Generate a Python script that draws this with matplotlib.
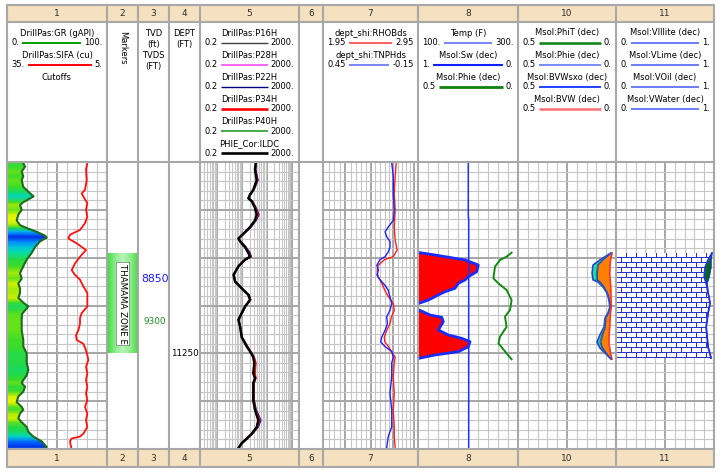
import numpy as np
import matplotlib
matplotlib.use("Agg")
import matplotlib.pyplot as plt
from matplotlib.colors import LinearSegmentedColormap, ListedColormap

plt.rcParams['font.family'] = ['DejaVu Sans']

# ---------------------------------------------------------------- data
TOP_DEPTH, BASE_DEPTH = 11050, 11350
TRACK_IDS = ['1', '2', '3', '4', '5', '6', '7', '8', '10', '11']

GR_DEPTH = [11051, 11055, 11060, 11065, 11069, 11076, 11081, 11086, 11092, 11095,
            11100, 11105, 11111, 11116, 11119, 11123, 11127, 11129, 11133, 11139,
            11145, 11152, 11159, 11166, 11172, 11177, 11182, 11187, 11192, 11197,
            11201, 11205, 11209, 11215, 11226, 11236, 11243, 11250, 11260, 11267,
            11273, 11278, 11281, 11285, 11290, 11295, 11301, 11306, 11309, 11313,
            11318, 11322, 11327, 11332, 11337, 11342, 11346, 11348, 11350]
GR = [16.3, 18.0, 14.7, 16.3, 14.7, 16.3, 21.3, 26.5, 16.3, 13.0,
      14.7, 11.3, 9.7, 13.0, 19.7, 29.7, 38.0, 39.7, 33.0, 28.0,
      24.7, 19.7, 16.3, 13.0, 14.7, 11.3, 13.0, 13.0, 11.3, 16.3,
      21.3, 18.0, 15.0, 14.7, 14.7, 16.3, 16.3, 19.7, 19.7, 21.3,
      19.7, 16.3, 14.7, 18.0, 16.3, 11.3, 9.7, 14.7, 16.3, 13.0,
      11.3, 14.7, 19.7, 21.3, 26.3, 34.7, 38.0, 39.7, 36.0]

SIFA_DEPTH = [11051, 11058, 11069, 11079, 11083, 11086, 11093, 11100, 11107, 11114,
              11121, 11126, 11130, 11135, 11142, 11149, 11156, 11163, 11168, 11173,
              11180, 11187, 11194, 11201, 11208, 11213, 11219, 11226, 11231, 11236,
              11240, 11247, 11252, 11257, 11264, 11271, 11278, 11285, 11292, 11299,
              11306, 11313, 11320, 11327, 11334, 11337, 11339, 11342, 11346, 11350]
SIFA = [10.9, 11.3, 11.1, 11.6, 12.6, 12.1, 10.9, 11.3, 10.9, 11.6,
        13.1, 16.1, 16.6, 14.1, 11.3, 13.1, 14.6, 15.6, 14.6, 13.1,
        12.1, 10.9, 10.9, 10.9, 12.6, 13.1, 13.1, 13.6, 14.3, 14.1,
        12.1, 11.3, 10.9, 10.6, 11.3, 10.9, 11.3, 10.9, 11.3, 10.9,
        11.6, 10.9, 11.3, 10.9, 12.1, 13.1, 15.6, 16.1, 15.9, 15.6]

MARKER_NAME = 'THAMAMA ZONE E'
MARKER_TOP, MARKER_BASE = 11146, 11250

TVD_LABELS = ['8850', '9300']
TVD_LABEL_DEPTHS = [11172, 11217]
DEPTH_LABEL = '11250'
DEPTH_LABEL_DEPTH = 11250

RES_DEPTH = [11051, 11058, 11069, 11079, 11084, 11088, 11091, 11098, 11105, 11111,
             11118, 11125, 11130, 11133, 11139, 11145, 11149, 11152, 11159, 11168,
             11175, 11182, 11189, 11194, 11201, 11208, 11215, 11222, 11233, 11243,
             11248, 11254, 11260, 11271, 11276, 11281, 11290, 11299, 11309, 11320,
             11327, 11334, 11339, 11344, 11349]
ILDC = [35.6, 33.2, 39, 28.4, 21, 17.9, 24.6, 33.2, 39, 33.2,
        21, 11.2, 7.1, 8.3, 13.2, 17.9, 21, 13.2, 7.1, 4.5,
        5.2, 9.6, 17.9, 21, 13.2, 9.6, 7.1, 8.3, 9.6, 15.5,
        21, 28.4, 31.2, 28.4, 33.2, 28.4, 28.4, 28.4, 33.2, 45.6,
        39, 24.6, 15.5, 9.6, 7.1]
P16H = [36, 34, 41, 29, 21.5, 18.5, 25, 35, 43, 35,
        22, 11.5, 7.3, 8.5, 13.5, 19, 22, 13.5, 7.2, 4.6,
        5.3, 9.8, 18.5, 21.5, 13.5, 9.8, 7.2, 8.4, 9.8, 16,
        21.5, 29.5, 33, 30, 34, 29, 29, 29, 34.5, 50,
        41, 25, 16, 9.8, 7.2]
P28H = [37, 35, 43, 30, 22, 19, 26, 36, 46, 36,
        22.5, 11.8, 7.4, 8.6, 14, 20, 23, 14, 7.3, 4.6,
        5.4, 10, 19, 22, 13.8, 10, 7.3, 8.5, 10, 16.5,
        22, 30, 34, 31, 35, 30, 30, 30, 36, 55,
        44, 26, 16.5, 10, 7.3]
P22H = [38, 35.5, 44, 30.5, 22, 19.5, 26.5, 37, 48, 37,
        23, 12, 7.5, 8.8, 14.5, 21, 23.5, 14.2, 7.4, 4.7,
        5.5, 10.2, 19.5, 22.5, 14, 10.2, 7.4, 8.6, 10.2, 17,
        22.5, 31, 35, 32, 36, 31, 30.5, 31, 37, 57,
        45, 26.5, 17, 10.2, 7.4]
P34H = [36.5, 34.5, 42, 29.5, 21.5, 18.8, 25.5, 35.5, 44, 35.5,
        22, 11.6, 7.3, 8.5, 13.8, 19.5, 22.5, 13.8, 7.2, 4.6,
        5.3, 9.9, 18.8, 22, 13.6, 9.9, 7.2, 8.4, 9.9, 16.2,
        22, 30.5, 36, 34, 36, 30, 29.5, 30, 35, 52,
        42, 25.5, 16.2, 9.9, 7.2]
P40H = [35, 33, 38.5, 28, 20.8, 17.7, 24.2, 32.8, 38.5, 32.8,
        20.7, 11, 7.0, 8.2, 13, 17.6, 20.7, 13, 7.0, 4.45,
        5.1, 9.5, 17.6, 20.7, 13, 9.5, 7.0, 8.2, 9.5, 15.3,
        20.7, 28, 30.8, 28, 32.8, 28, 28, 28, 32.8, 44,
        38.5, 24.2, 15.3, 9.5, 7.0]

RHOB_DEPTH = [11051, 11065, 11083, 11100, 11118, 11132, 11142, 11149, 11152, 11158,
              11163, 11170, 11177, 11184, 11191, 11198, 11205, 11212, 11219, 11226,
              11233, 11238, 11243, 11248, 11254, 11260, 11274, 11292, 11309, 11327,
              11337, 11349]
RHOB = [2.72, 2.71, 2.70, 2.71, 2.70, 2.71, 2.73, 2.69, 2.60, 2.53,
        2.52, 2.53, 2.57, 2.60, 2.64, 2.69, 2.70, 2.67, 2.655, 2.62,
        2.595, 2.60, 2.64, 2.67, 2.71, 2.70, 2.69, 2.70, 2.69, 2.70,
        2.70, 2.71]
TNPH_DEPTH = [11051, 11065, 11083, 11100, 11111, 11118, 11123, 11128, 11133, 11139,
              11144, 11149, 11152, 11158, 11163, 11168, 11173, 11179, 11184, 11191,
              11198, 11205, 11212, 11219, 11226, 11233, 11238, 11243, 11248, 11254,
              11260, 11274, 11292, 11309, 11327, 11337, 11349]
TNPH = [0.016, 0.006, 0.006, 0.0, 0.006, 0.038, 0.058, 0.048, 0.027, 0.027,
        0.038, 0.058, 0.09, 0.11, 0.10, 0.11, 0.09, 0.058, 0.038, 0.027,
        0.016, 0.027, 0.048, 0.043, 0.058, 0.079, 0.085, 0.058, 0.016, 0.006,
        0.016, 0.016, 0.027, 0.016, 0.016, 0.038, 0.048]

TEMP_DEPTH = [11050, 11108, 11109, 11350]
TEMP = [200.6, 200.6, 201.4, 201.4]

SW_DEPTH = [11144.6, 11144.8, 11147.2, 11152.4, 11157.7, 11164.7, 11169.9, 11173.3, 11176.8,
            11182.0, 11185.6, 11189.0, 11194.3, 11197.7, 11200.0,
            11204.7, 11209.9, 11212.3, 11216.9, 11225.6, 11230.8, 11234.3, 11237.8,
            11243.1, 11248.3, 11251.7, 11255.2]
SW = [1.0, 0.98, 0.83, 0.53, 0.397, 0.413, 0.497, 0.53, 0.597,
      0.63, 0.73, 0.797, 0.897, 0.99, np.nan,
      0.99, 0.88, 0.763, 0.747, 0.797, 0.697, 0.563, 0.48,
      0.497, 0.597, 0.83, 0.99]

PHIE8_DEPTH = [11144.8, 11149.0, 11152.4, 11159.4, 11171.6, 11176.8, 11183.8, 11194.3,
               11204.7, 11211.7, 11222.2, 11232.6, 11239.5, 11250.0, 11256.2]
PHIE8 = [0.032, 0.057, 0.09, 0.115, 0.123, 0.098, 0.057, 0.032,
         0.04, 0.065, 0.057, 0.09, 0.098, 0.057, 0.032]

D10 = [11145.1, 11152.4, 11157.7, 11166.0, 11173.3, 11175.4, 11180.7, 11186.9, 11194.3,
       11201.6, 11207.8, 11213.0, 11222.5, 11230.8, 11238.2, 11244.4, 11251.7, 11255.9]
PHIT = [0.026, 0.082, 0.117, 0.122, 0.117, 0.092, 0.066, 0.046, 0.036,
        0.031, 0.041, 0.056, 0.061, 0.082, 0.097, 0.082, 0.046, 0.026]
PHIE = [0.024, 0.070, 0.095, 0.100, 0.100, 0.085, 0.064, 0.045, 0.035,
        0.030, 0.040, 0.054, 0.058, 0.072, 0.082, 0.072, 0.044, 0.025]
BVWSXO = [0.023, 0.066, 0.090, 0.095, 0.094, 0.080, 0.060, 0.043, 0.034,
          0.029, 0.038, 0.051, 0.055, 0.068, 0.077, 0.068, 0.042, 0.024]
BVW = [0.020, 0.028, 0.030, 0.032, 0.030, 0.028, 0.027, 0.026, 0.025,
       0.024, 0.028, 0.030, 0.032, 0.035, 0.036, 0.032, 0.026, 0.020]

D11 = [11145.1, 11152.4, 11159.8, 11170.2, 11176.5, 11186.9, 11197.4, 11207.8,
       11222.5, 11232.9, 11243.4, 11254.9]
VILLITE = [0.01, 0.01, 0.01, 0.01, 0.01, 0.01, 0.01, 0.01, 0.01, 0.01, 0.01, 0.01]
VLIME = [0.97, 0.93, 0.90, 0.89, 0.91, 0.93, 0.95, 0.93, 0.91, 0.92, 0.93, 0.96]
VOIL = [0.0, 0.03, 0.06, 0.05, 0.01, 0.0, 0.0, 0.0, 0.0, 0.0, 0.0, 0.0]
VWATER = [0.02, 0.03, 0.03, 0.05, 0.07, 0.06, 0.04, 0.06, 0.08, 0.07, 0.06, 0.03]

# header legend entries: (name, left scale, right scale, colour, line width)
HEADER_ENTRIES = {
    0: [('DrillPas:GR (gAPI)', '0.', '100.', '#00a000', 1.4),
        ('DrillPas:SIFA (cu)', '35.', '5.', '#ff0000', 1.4)],
    4: [('DrillPas:P16H', '0.2', '2000.', '#404040', 1.0),
        ('DrillPas:P28H', '0.2', '2000.', '#ff66ff', 1.4),
        ('DrillPas:P22H', '0.2', '2000.', '#000080', 1.0),
        ('DrillPas:P34H', '0.2', '2000.', '#ff0000', 1.9),
        ('DrillPas:P40H', '0.2', '2000.', '#2e9a2e', 1.2),
        ('PHIE_Cor:ILDC', '0.2', '2000.', '#000000', 1.9)],
    6: [('dept_shi:RHOBds', '1.95', '2.95', '#ff3535', 1.1),
        ('dept_shi:TNPHds', '0.45', '-0.15', '#5565ff', 1.1)],
    7: [('Temp (F)', '100.', '300.', '#5565ff', 1.1),
        ('Msol:Sw (dec)', '1.', '0.', '#1020ff', 1.5),
        ('Msol:Phie (dec)', '0.5', '0.', '#108010', 2.0)],
    8: [('Msol:PhiT (dec)', '0.5', '0.', '#108010', 1.8),
        ('Msol:Phie (dec)', '0.5', '0.', '#7080ff', 1.3),
        ('Msol:BVWsxo (dec)', '0.5', '0.', '#1030ff', 1.3),
        ('Msol:BVW (dec)', '0.5', '0.', '#ff7070', 1.8)],
    9: [('Msol:VIllite (dec)', '0.', '1.', '#6070ff', 1.3),
        ('Msol:VLime (dec)', '0.', '1.', '#6070ff', 1.3),
        ('Msol:VOil (dec)', '0.', '1.', '#6070ff', 1.3),
        ('Msol:VWater (dec)', '0.', '1.', '#6070ff', 1.3)],
}

# ---------------------------------------------------------------- layout / style
W, H, DPI = 721, 473, 100
TRACK_EDGES = [7, 107, 138, 169, 200, 299, 323, 418, 518, 616, 714]
BAND_Y = (5, 22)
DATA_Y = (162, 449)
FOOT_Y = (449, 467)
FS = 6
BORDER = '#a8a8a8'
BAND = '#f5e0bf'
GRID_MINOR = '#c6c6c6'
GRID_MAJOR = '#a6a6a6'

fig = plt.figure(figsize=(W / DPI, H / DPI), dpi=DPI)
fig.patch.set_facecolor('white')

bg = fig.add_axes([0, 0, 1, 1], zorder=0)
bg.set_xlim(0, W)
bg.set_ylim(H, 0)
bg.axis('off')


def track_ax(i):
    x0, x1 = TRACK_EDGES[i], TRACK_EDGES[i + 1]
    ax = fig.add_axes([x0 / W, 1 - DATA_Y[1] / H, (x1 - x0) / W,
                       (DATA_Y[1] - DATA_Y[0]) / H], zorder=1)
    ax.set_facecolor('none')
    for s in ax.spines.values():
        s.set_visible(False)
    ax.tick_params(which='both', length=0, labelbottom=False, labelleft=False,
                   bottom=False, left=False)
    ax.set_axisbelow(True)
    ax.set_ylim(BASE_DEPTH, TOP_DEPTH)
    return ax


def depth_grid(ax):
    ax.set_yticks(np.arange(11100, 11301, 50))
    ax.set_yticks(np.arange(11060, 11350, 10), minor=True)
    ax.yaxis.grid(True, which='major', color=GRID_MAJOR, lw=1.4)
    ax.yaxis.grid(True, which='minor', color=GRID_MINOR, lw=0.8)
    ax.set_ylim(BASE_DEPTH, TOP_DEPTH)


def x_grid(ax, major, minor, major_heavy=True):
    ax.set_xticks(major)
    ax.set_xticks(minor, minor=True)
    ax.xaxis.grid(True, which='major', color=GRID_MAJOR if major_heavy else GRID_MINOR,
                  lw=1.4 if major_heavy else 0.8)
    ax.xaxis.grid(True, which='minor', color=GRID_MINOR, lw=0.8)


def twin(ax, xlim):
    t = ax.twiny()
    t.set_xlim(*xlim)
    t.set_ylim(BASE_DEPTH, TOP_DEPTH)
    t.axis('off')
    return t


# ---------------- track 1 : GR + SIFA
ax1 = track_ax(0)
x_grid(ax1, [50], [10, 20, 30, 40, 60, 70, 80, 90])
depth_grid(ax1)
gr_cmap = LinearSegmentedColormap.from_list('gr', [
    (0.0, '#ffff00'), (0.12, '#c8f000'), (0.22, '#44dd22'), (0.36, '#22d84a'),
    (0.52, '#00e0b8'), (0.66, '#00a8ff'), (0.85, '#0050ff'), (1.0, '#0022c8')])
gd = np.asarray(GR_DEPTH, float)
gv = np.asarray(GR, float)
mesh = ax1.pcolormesh(np.column_stack([np.zeros_like(gd), np.full_like(gd, 100.0)]),
                      np.column_stack([gd, gd]), np.column_stack([gv, gv]),
                      shading='gouraud', cmap=gr_cmap, vmin=8, vmax=42, zorder=1)
clip = ax1.fill_betweenx(gd, 0, gv, facecolor='none', edgecolor='none')
mesh.set_clip_path(clip.get_paths()[0], transform=ax1.transData)
ax1.plot(gv, gd, color='#1d6b1d', lw=1.5, zorder=3)
ax1.set_xlim(0, 100)
ax1.set_ylim(BASE_DEPTH, TOP_DEPTH)
t1 = twin(ax1, (35, 5))
t1.plot(SIFA, SIFA_DEPTH, color='#ff1010', lw=1.3)

# ---------------- track 2 : markers
ax2 = track_ax(1)
ax2.set_xlim(0, 1)
grad = np.abs(np.linspace(-1, 1, 64))[None, :]
mk_cmap = LinearSegmentedColormap.from_list('mk', ['#b6f4b6', '#8beb8b', '#3cdb3c'])
ax2.imshow(grad, cmap=mk_cmap, extent=(0, 1, MARKER_BASE, MARKER_TOP),
           aspect='auto', zorder=1)
ax2.set_xlim(0, 1)
ax2.set_ylim(BASE_DEPTH, TOP_DEPTH)
ax2.text(0.5, (MARKER_TOP + MARKER_BASE) / 2, MARKER_NAME, rotation=270,
         ha='center', va='center', fontsize=6.2, color='black', zorder=3,
         bbox=dict(boxstyle='square,pad=0.2', fc='white', ec='#606060', lw=0.4))

# ---------------- track 3 : TVD labels
ax3 = track_ax(2)
ax3.set_xlim(0, 1)
ax3.text(0.1, TVD_LABEL_DEPTHS[0], TVD_LABELS[0], color='#1a1aff', fontsize=7.8,
         ha='left', va='center', clip_on=False)
ax3.text(0.17, TVD_LABEL_DEPTHS[1], TVD_LABELS[1], color='#1e8c1e', fontsize=6.4,
         ha='left', va='center', clip_on=False)

# ---------------- track 4 : depth label
ax4 = track_ax(3)
ax4.set_xlim(0, 1)
ax4.text(0.97, DEPTH_LABEL_DEPTH, DEPTH_LABEL, color='black', fontsize=6.3,
         ha='right', va='center', clip_on=False)

# ---------------- track 5 : resistivity
ax5 = track_ax(4)
ax5.set_xscale('log')
dec_major = [1, 10, 100, 1000]
dec_minor = [k * 10.0 ** e for e in range(-1, 4) for k in range(2, 10)
             if 0.2 < k * 10.0 ** e < 2000]
x_grid(ax5, dec_major, dec_minor)
depth_grid(ax5)
for vals, col, lw in [(P16H, '#404040', 1.0), (P28H, '#ff55ff', 1.1),
                      (P22H, '#1010a0', 1.1), (P34H, '#ff1010', 1.1),
                      (P40H, '#2e9a2e', 1.1), (ILDC, '#000000', 1.7)]:
    ax5.plot(vals, RES_DEPTH, color=col, lw=lw, zorder=3)
ax5.set_xlim(0.2, 2000)
ax5.set_ylim(BASE_DEPTH, TOP_DEPTH)

# ---------------- track 6 : empty
ax6 = track_ax(5)

# ---------------- track 7 : density / neutron
ax7 = track_ax(6)
ax7.set_xscale('log')
x_grid(ax7, [2.15, 2.40, 2.65, 2.90],
       [round(2.0 + 0.05 * k, 2) for k in range(19)])
depth_grid(ax7)
ax7.set_xlim(1.95, 2.95)
ax7.set_ylim(BASE_DEPTH, TOP_DEPTH)
t7a = twin(ax7, (1.95, 2.95))
t7a.plot(RHOB, RHOB_DEPTH, color='#ff2020', lw=1.0)
t7b = twin(ax7, (0.45, -0.15))
t7b.plot(TNPH, TNPH_DEPTH, color='#2020ff', lw=1.0)

# ---------------- track 8 : temp, Sw, phie
ax8 = track_ax(7)
x_grid(ax8, list(range(120, 300, 20)), [], major_heavy=False)
depth_grid(ax8)
ax8.set_xlim(100, 300)
ax8.set_ylim(BASE_DEPTH, TOP_DEPTH)
t8a = twin(ax8, (1, 0))
t8a.fill_betweenx(SW_DEPTH, 1.0, SW, color='#ff0000', lw=0)
t8a.plot(SW, SW_DEPTH, color='#1a2cff', lw=2.0)
t8b = twin(ax8, (0.5, 0))
t8b.plot(PHIE8, PHIE8_DEPTH, color='#108a10', lw=1.4)
t8c = twin(ax8, (100, 300))
t8c.plot(TEMP, TEMP_DEPTH, color='#2030ff', lw=1.1)

# ---------------- track 10 : porosity / BVW
ax10 = track_ax(8)
x_grid(ax10, [0.25], [0.05, 0.10, 0.15, 0.20, 0.30, 0.35, 0.40, 0.45])
depth_grid(ax10)
ax10.fill_betweenx(D10, PHIT, PHIE, color='#19e69a', lw=0, zorder=1)
ax10.fill_betweenx(D10, PHIE, BVW, color='#ff8000', lw=0, zorder=1)
ax10.plot(PHIT, D10, color='#1f3fd8', lw=1.2, zorder=3)
ax10.plot(PHIE, D10, color='#2a8a2a', lw=0.8, zorder=3)
ax10.plot(BVWSXO, D10, color='#2040ff', lw=0.8, zorder=3)
ax10.plot(BVW, D10, color='#ff3030', lw=1.1, zorder=3)
ax10.set_xlim(0.5, 0)
ax10.set_ylim(BASE_DEPTH, TOP_DEPTH)

# ---------------- track 11 : lithology
ax11 = track_ax(9)
x_grid(ax11, [0.5], [0.1, 0.2, 0.3, 0.4, 0.6, 0.7, 0.8, 0.9])
depth_grid(ax11)
villite = np.asarray(VILLITE)
lime_right = villite + np.asarray(VLIME)
oil_right = lime_right + np.asarray(VOIL)
ny = DATA_Y[1] - DATA_Y[0]
nx = TRACK_EDGES[10] - TRACK_EDGES[9]
yy, xx = np.mgrid[0:ny, 0:nx]
brick = ((yy % 5) == 0) | (((xx + ((yy // 5) % 2) * 5) % 10) == 0)
im = ax11.imshow(brick.astype(float), cmap=ListedColormap(['white', '#2434c8']),
                 vmin=0, vmax=1, extent=(0, 1, BASE_DEPTH, TOP_DEPTH),
                 aspect='auto', interpolation='nearest', zorder=1)
clip11 = ax11.fill_betweenx(D11, villite, lime_right, facecolor='none', edgecolor='none')
im.set_clip_path(clip11.get_paths()[0], transform=ax11.transData)
ax11.fill_betweenx(D11, lime_right, oil_right, color='#006b00', lw=0, zorder=2)
ax11.plot(lime_right, D11, color='#2030e0', lw=1.3, zorder=3)
ax11.plot(oil_right, D11, color='#2030e0', lw=0.8, zorder=3)
ax11.set_xlim(0, 1)
ax11.set_ylim(BASE_DEPTH, TOP_DEPTH)

# ---------------------------------------------------------------- header / footer
for i, tid in enumerate(TRACK_IDS):
    x0, x1 = TRACK_EDGES[i], TRACK_EDGES[i + 1]
    for (ya, yb) in (BAND_Y, FOOT_Y):
        bg.fill_between([x0, x1], ya, yb, color=BAND, lw=0)
        bg.text((x0 + x1) / 2, (ya + yb) / 2 + 0.5, tid, ha='center', va='center',
                fontsize=6.5, color='#303030')

head_lines = []
for ti, entries in HEADER_ENTRIES.items():
    x0, x1 = TRACK_EDGES[ti], TRACK_EDGES[ti + 1]
    xc = (x0 + x1) / 2
    for r, (name, lo, hi, col, lw) in enumerate(entries):
        yn = 33 + 22.1 * r
        yl = 42.6 + 22.1 * r
        bg.text(xc, yn, name, ha='center', va='center', fontsize=FS)
        tl = bg.text(x0 + 4.5, yl, lo, ha='left', va='center', fontsize=FS)
        tr = bg.text(x1 - 4.5, yl, hi, ha='right', va='center', fontsize=FS)
        head_lines.append((tl, tr, yl, col, lw))

bg.text((TRACK_EDGES[0] + TRACK_EDGES[1]) / 2, 33 + 22.1 * 2, 'Cutoffs',
        ha='center', va='center', fontsize=FS)
bg.text((TRACK_EDGES[1] + TRACK_EDGES[2]) / 2, 47.5, 'Markers', rotation=270,
        ha='center', va='center', fontsize=FS)
for k, s in enumerate(['TVD', '(ft)', 'TVDS', '(FT)']):
    bg.text((TRACK_EDGES[2] + TRACK_EDGES[3]) / 2, 33 + 11.3 * k, s,
            ha='center', va='center', fontsize=FS)
for k, s in enumerate(['DEPT', '(FT)']):
    bg.text((TRACK_EDGES[3] + TRACK_EDGES[4]) / 2, 33 + 11.3 * k, s,
            ha='center', va='center', fontsize=FS)

fig.canvas.draw()
rend = fig.canvas.get_renderer()
for tl, tr, yl, col, lw in head_lines:
    a = tl.get_window_extent(rend).x1 + 3
    b = tr.get_window_extent(rend).x0 - 3
    bg.plot([a, b], [yl, yl], color=col, lw=lw, solid_capstyle='butt')

# ---------------------------------------------------------------- borders
top = fig.add_axes([0, 0, 1, 1], zorder=10)
top.set_xlim(0, W)
top.set_ylim(H, 0)
top.axis('off')
top.patch.set_visible(False)
for x in TRACK_EDGES:
    top.plot([x, x], [BAND_Y[0], FOOT_Y[1]], color=BORDER, lw=1.5,
             solid_capstyle='projecting')
for y in (BAND_Y[0], BAND_Y[1], DATA_Y[0], DATA_Y[1], FOOT_Y[1]):
    top.plot([TRACK_EDGES[0], TRACK_EDGES[-1]], [y, y], color=BORDER, lw=1.5,
             solid_capstyle='projecting')

fig.savefig('out.png', dpi=DPI)
